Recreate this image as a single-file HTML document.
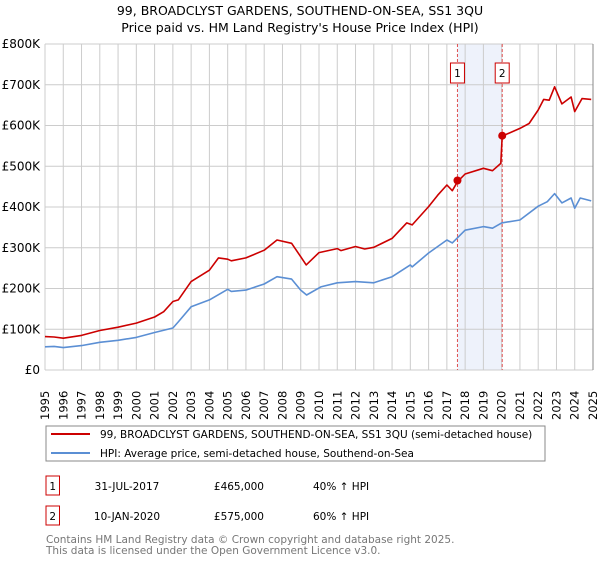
<!DOCTYPE html>
<html><head><meta charset="utf-8">
<style>
body{margin:0;background:#fff;font-family:"Liberation Sans","DejaVu Sans",sans-serif;}
svg text{font-family:"DejaVu Sans","Liberation Sans",sans-serif;}
</style></head>
<body>
<svg id="chart" width="600" height="560" viewBox="0 0 600 560" xmlns="http://www.w3.org/2000/svg">
<text x="300" y="15" text-anchor="middle" font-size="12.5" fill="#000">99, BROADCLYST GARDENS, SOUTHEND-ON-SEA, SS1 3QU</text>
<text x="300" y="32" text-anchor="middle" font-size="12.5" fill="#000">Price paid vs. HM Land Registry's House Price Index (HPI)</text>
<g id="grid"></g>
<g id="marks"></g>
<g id="axes"></g>

<rect x="46" y="426" width="499" height="35" fill="#fff" stroke="#888" stroke-width="1"/>
<line x1="51" y1="434" x2="90" y2="434" stroke="#cc0000" stroke-width="2"/>
<text x="100" y="438" font-size="10.5">99, BROADCLYST GARDENS, SOUTHEND-ON-SEA, SS1 3QU (semi-detached house)</text>
<line x1="51" y1="453" x2="90" y2="453" stroke="#5b8fd4" stroke-width="2"/>
<text x="100" y="457" font-size="10.5">HPI: Average price, semi-detached house, Southend-on-Sea</text>

<rect x="46" y="476" width="13.5" height="19" fill="#fff" stroke="#cc0000"/>
<text x="52.7" y="490" text-anchor="middle" font-size="10.5">1</text>
<text x="127" y="490" text-anchor="middle" font-size="10.5">31-JUL-2017</text>
<text x="264" y="490" text-anchor="end" font-size="10.5">£465,000</text>
<text x="313" y="490" font-size="10.5">40% ↑ HPI</text>

<rect x="46" y="506" width="13.5" height="19" fill="#fff" stroke="#cc0000"/>
<text x="52.7" y="520" text-anchor="middle" font-size="10.5">2</text>
<text x="127" y="520" text-anchor="middle" font-size="10.5">10-JAN-2020</text>
<text x="264" y="520" text-anchor="end" font-size="10.5">£575,000</text>
<text x="313" y="520" font-size="10.5">60% ↑ HPI</text>

<text x="46" y="543" font-size="10.5" fill="#777">Contains HM Land Registry data © Crown copyright and database right 2025.</text>
<text x="46" y="554" font-size="10.5" fill="#777">This data is licensed under the Open Government Licence v3.0.</text>
</svg>
<script>
const hpiYears=[1995,1995.5,1996,1997,1998,1999,2000,2001,2002,2002.3,2003,2004,2005,2005.2,2006,2007,2007.7,2008.5,2009,2009.32,2010.1,2011,2012,2013,2014,2015,2015.1,2016,2017,2017.3,2018,2019,2019.5,2020,2021,2022,2022.5,2022.9,2023.3,2023.8,2024,2024.3,2024.9];
const hpiValues=[57,58,55,60,68,73,80,92,103,118,155,172,198,193,196,211,229,223,196,184,204,214,217,214,229,258,253,287,319,312,343,352,348,361,368,402,413,433,410,422,397,422,415];
const saleYears=[1995,1995.5,1996,1997,1998,1999,2000,2001,2001.5,2002,2002.3,2003,2004,2004.5,2005,2005.2,2006,2007,2007.7,2008.5,2009,2009.3,2010,2011,2011.2,2012,2012.5,2013,2014,2014.8,2015.1,2016,2016.5,2017,2017.3,2017.58,2018,2019,2019.5,2019.95,2020.03,2021,2021.5,2022,2022.3,2022.6,2022.9,2023.3,2023.8,2024,2024.4,2024.9];
const saleValues=[82,81,78,85,97,105,115,130,143,168,172,217,245,275,272,268,275,294,319,311,278,258,288,298,293,303,297,301,323,361,356,401,429,454,440,462,481,495,489,507,574,593,605,638,664,662,695,653,670,634,666,664];
const transYears=[2017.58,2020.03];
const transValues=[465,575];
const transLabels=["1","2"];
const yTicks=[0,100,200,300,400,500,600,700,800];
const yTickLabels=["£0","£100K","£200K","£300K","£400K","£500K","£600K","£700K","£800K"];
const xTicks=[1995,1996,1997,1998,1999,2000,2001,2002,2003,2004,2005,2006,2007,2008,2009,2010,2011,2012,2013,2014,2015,2016,2017,2018,2019,2020,2021,2022,2023,2024,2025];

const X0=45,X1=593,Y0=370,Y1=44;
const xs=y=>X0+(y-1995)/(2025-1995)*(X1-X0);
const ys=v=>Y0-v/800*(Y0-Y1);
const NS="http://www.w3.org/2000/svg";
function mk(parent,tag,attrs){const e=document.createElementNS(NS,tag);for(const k in attrs)e.setAttribute(k,attrs[k]);parent.appendChild(e);return e;}
const grid=document.getElementById('grid'),marks=document.getElementById('marks'),axes=document.getElementById('axes');

const band=mk(grid,'rect',{x:xs(transYears[0]),y:Y1,width:xs(transYears[1])-xs(transYears[0]),height:Y0-Y1,fill:'#eef2fb'});



xTicks.forEach(t=>{
  const l=mk(grid,'line',{x1:xs(t),x2:xs(t),y1:Y1,y2:Y0,stroke:'#cccccc','stroke-width':1});
  
  
  const tx=mk(axes,'text',{transform:`translate(${xs(t)+4},${Y0+50}) rotate(-90)`,'font-size':'11.5',fill:'#000'});
  tx.textContent=t;
  
  
});
yTicks.forEach((t,i)=>{
  const l=mk(grid,'line',{x1:X0,x2:X1,y1:ys(t),y2:ys(t),stroke:'#cccccc','stroke-width':1});
  
  
  const tx=mk(axes,'text',{x:40,y:ys(t)+4,'text-anchor':'end','font-size':'12',fill:'#000'});
  tx.textContent=yTickLabels[i];
  
  
});
const rb=mk(axes,'line',{x1:X1,x2:X1,y1:Y1,y2:Y0,stroke:'#888','stroke-width':1});



transYears.forEach((t,i)=>{
  const l=mk(marks,'line',{x1:xs(t),x2:xs(t),y1:Y1,y2:Y0,stroke:'#e05050','stroke-width':1,'stroke-dasharray':'3,2'});
  
  
});

function path(years,vals,color,name){
  const d=years.map((y,i)=>(i?'L':'M')+xs(y).toFixed(1)+','+ys(vals[i]).toFixed(1)).join('');
  const p=mk(marks,'path',{d:d,fill:'none',stroke:color,'stroke-width':1.6,'stroke-linejoin':'round'});
  
  
}
path(hpiYears,hpiValues,'#5b8fd4','hpi-line');
path(saleYears,saleValues,'#cc0000','property-price-line');

transYears.forEach((t,i)=>{
  const c=mk(marks,'circle',{cx:xs(t),cy:ys(transValues[i]),r:4,fill:'#cc0000'});
  
  
  const b=mk(marks,'rect',{x:xs(t)-7,y:63,width:14,height:20,fill:'#fff',stroke:'#cc0000'});
  
  
  const tx=mk(marks,'text',{x:xs(t),y:77,'text-anchor':'middle','font-size':'10.5'});
  tx.textContent=transLabels[i];
  
  
});
</script>
</body></html>
